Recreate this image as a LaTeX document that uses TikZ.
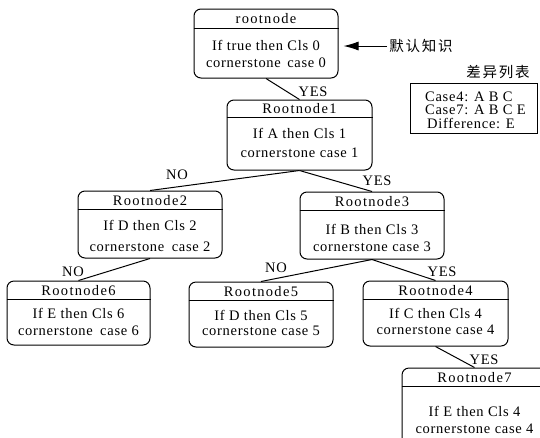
\documentclass[tikz,border=0pt]{standalone}
\usepackage{fontspec}
\setmainfont{Liberation Serif}
\newfontfamily\hdrfont[LetterSpace=9]{Liberation Serif}
\newfontfamily\bdyfont[LetterSpace=5]{Liberation Serif}
\newfontfamily\cjkfont[LetterSpace=12]{Noto Sans CJK SC}
\usetikzlibrary{arrows.meta}
\begin{document}
\begin{tikzpicture}[x=1pt,y=-1pt,
  tbox/.style={draw, rounded corners=7pt, line width=1pt, minimum width=145pt, inner sep=0pt},
  hdr/.style={font=\hdrfont\fontsize{14.5pt}{17pt}\selectfont, inner sep=0pt},
  bdy/.style={font=\bdyfont\fontsize{14.5pt}{17pt}\selectfont, align=center, inner sep=0pt},
  elab/.style={font=\bdyfont\fontsize{14.5pt}{17pt}\selectfont, inner sep=0pt},
  conn/.style={line width=1pt},
  cjk/.style={font=\cjkfont\fontsize{14.5pt}{17pt}\selectfont, inner sep=2pt}]
\useasboundingbox (0,0) rectangle (540,437);

% rootnode
\node[tbox, minimum width=144pt, minimum height=69pt] (r0) at (266,43.5) {};
\draw[conn] ([yshift=-20pt]r0.north west) -- ([yshift=-20pt]r0.north east);
\node[hdr] (r0h) at (266,19) {rootnode};
\node[bdy] (r0b) at (266,53.5) {If true then Cls 0\\cornerstone\hspace{2pt} case 0};

% Rootnode1
\node[tbox, minimum height=70pt] (r1) at (299.5,135) {};
\draw[conn] ([yshift=-18pt]r1.north west) -- ([yshift=-18pt]r1.north east);
\node[hdr] (r1h) at (299.5,109) {Rootnode1};
\node[bdy] (r1b) at (299.5,142.5) {If A then Cls 1\\[2pt]cornerstone case 1};

% Rootnode2
\node[tbox, minimum width=144pt, minimum height=67pt] (r2) at (150,224.5) {};
\draw[conn] ([yshift=-19pt]r2.north west) -- ([yshift=-19pt]r2.north east);
\node[hdr] (r2h) at (150,200.5) {Rootnode2};
\node[bdy] (r2b) at (150,235.5) {If D then Cls 2\\[4pt]cornerstone\hspace{3pt} case 2};

% Rootnode3
\node[tbox, minimum width=144pt, minimum height=67pt] (r3) at (372,225.5) {};
\draw[conn] ([yshift=-19pt]r3.north west) -- ([yshift=-19pt]r3.north east);
\node[hdr] (r3h) at (372,201.5) {Rootnode3};
\node[bdy] (r3b) at (372,237.5) {If B then Cls 3\\cornerstone case 3};

% Rootnode6
\node[tbox, minimum width=143pt, minimum height=64pt] (r6) at (78.5,313) {};
\draw[conn] ([yshift=-19pt]r6.north west) -- ([yshift=-19pt]r6.north east);
\node[hdr] (r6h) at (78.5,290.5) {Rootnode6};
\node[bdy] (r6b) at (78.5,321.5) {If E then Cls 6\\cornerstone\hspace{3pt} case 6};

% Rootnode5
\node[tbox, minimum width=144pt, minimum height=65pt] (r5) at (261,314.5) {};
\draw[conn] ([yshift=-19pt]r5.north west) -- ([yshift=-19pt]r5.north east);
\node[hdr] (r5h) at (261,291.5) {Rootnode5};
\node[bdy] (r5b) at (261,322.5) {If D then Cls 5\\[-2pt]cornerstone case 5};

% Rootnode4
\node[tbox, minimum height=65pt] (r4) at (435.5,313.5) {};
\draw[conn] ([yshift=-19pt]r4.north west) -- ([yshift=-19pt]r4.north east);
\node[hdr] (r4h) at (435.5,290.5) {Rootnode4};
\node[bdy] (r4b) at (435.5,321) {If C then Cls 4\\[-1pt]cornerstone case 4};

% Rootnode7
\node[tbox, minimum height=78pt] (r7) at (474.5,407) {};
\draw[conn] ([yshift=-19pt]r7.north west) -- ([yshift=-19pt]r7.north east);
\node[hdr] (r7h) at (474.5,378) {Rootnode7};
\node[bdy] (r7b) at (474.5,419.5) {If E then Cls 4\\cornerstone case 4};

% connectors
\draw[conn] (r0.south) -- (r1.north);
\draw[conn] (r1.south) -- (r2.north);
\draw[conn] (r1.south) -- (r3.north);
\draw[conn] (r2.south) -- (r6.north);
\draw[conn] (r3.south) -- (r5.north);
\draw[conn] (r3.south) -- (r4.north);
\draw[conn] (r4.south) -- (r7.north);

% edge labels
\node[elab] (l01) at (313,92) {YES};
\node[elab] (l12) at (177,175) {NO};
\node[elab] (l13) at (377,181) {YES};
\node[elab] (l26) at (73,272) {NO};
\node[elab] (l35) at (276,268) {NO};
\node[elab] (l34) at (442,272) {YES};
\node[elab] (l47) at (484,360) {YES};

% default knowledge
\node[cjk] (kb) at (421,46) {默认知识};
\draw[conn, -{Latex[length=15pt,width=9pt]}, shorten >=5pt] (kb.west) -- (kb.west -| r0.east);

% difference list
\node[cjk] (dl) at (498,72) {差异列表};
\node[draw, line width=1pt, minimum width=127pt, minimum height=50pt, inner sep=0pt] (cb) at (473.5,108) {};
\node[font=\bdyfont\fontsize{14.5pt}{13.5pt}\selectfont, align=left, inner sep=0pt] (ct) at (475.5,110) {Case4: A B C\\Case7: A B C E\\\hspace{2pt}Difference: E};
\end{tikzpicture}
\end{document}
